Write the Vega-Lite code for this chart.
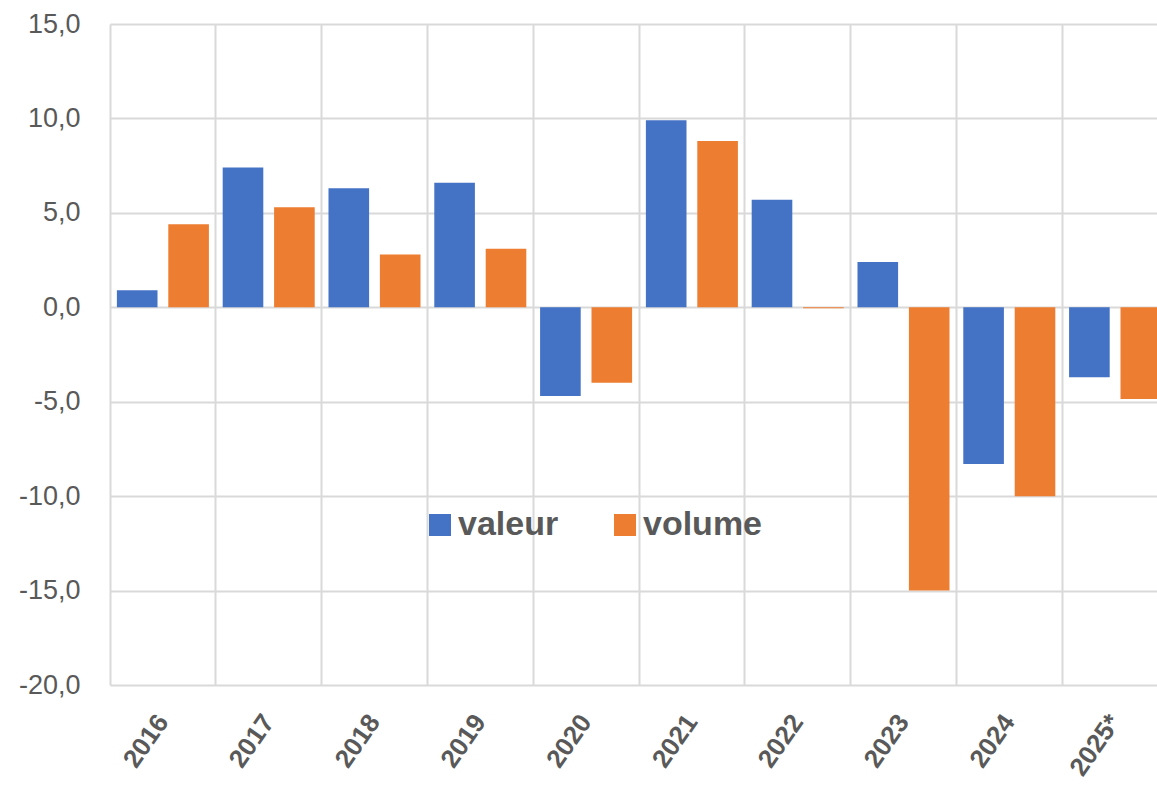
{
  "$schema": "https://vega.github.io/schema/vega-lite/v6.json",
  "width": 1058,
  "height": 661,
  "autosize": {"type": "none"},
  "padding": {"left": 110, "top": 24, "right": -11, "bottom": 100},
  "background": "white",
  "config": {"view": {"stroke": null}, "font": "Liberation Sans"},
  "data": {
    "values": [
      {"annee": "2016", "serie": "valeur", "value": 0.9},
      {"annee": "2016", "serie": "volume", "value": 4.4},
      {"annee": "2017", "serie": "valeur", "value": 7.4},
      {"annee": "2017", "serie": "volume", "value": 5.3},
      {"annee": "2018", "serie": "valeur", "value": 6.3},
      {"annee": "2018", "serie": "volume", "value": 2.8},
      {"annee": "2019", "serie": "valeur", "value": 6.6},
      {"annee": "2019", "serie": "volume", "value": 3.1},
      {"annee": "2020", "serie": "valeur", "value": -4.7},
      {"annee": "2020", "serie": "volume", "value": -4.0},
      {"annee": "2021", "serie": "valeur", "value": 9.9},
      {"annee": "2021", "serie": "volume", "value": 8.8},
      {"annee": "2022", "serie": "valeur", "value": 5.7},
      {"annee": "2022", "serie": "volume", "value": -0.05},
      {"annee": "2023", "serie": "valeur", "value": 2.4},
      {"annee": "2023", "serie": "volume", "value": -15.0},
      {"annee": "2024", "serie": "valeur", "value": -8.3},
      {"annee": "2024", "serie": "volume", "value": -10.0},
      {"annee": "2025*", "serie": "valeur", "value": -3.7},
      {"annee": "2025*", "serie": "volume", "value": -4.85}
    ]
  },
  "mark": {"type": "bar"},
  "encoding": {
    "x": {
      "field": "annee",
      "type": "nominal",
      "sort": null,
      "scale": {"paddingInner": 0, "paddingOuter": 0},
      "axis": {
        "title": null,
        "bandPosition": 0,
        "grid": true,
        "gridColor": "#d9d9d9",
        "gridWidth": 2,
        "ticks": false,
        "domain": false,
        "labelAngle": -55,
        "labelAlign": "right",
        "labelBaseline": "middle",
        "labelPadding": 32,
        "labelFont": "Liberation Sans",
        "labelFontWeight": "bold",
        "labelFontSize": 26,
        "labelColor": "#595959",
        "labelOverlap": false,
        "labelBound": false
      }
    },
    "xOffset": {
      "field": "serie",
      "type": "nominal",
      "sort": ["valeur", "volume"],
      "scale": {"paddingInner": 0.21, "paddingOuter": 0.134}
    },
    "y": {
      "field": "value",
      "type": "quantitative",
      "scale": {"domain": [-20, 15], "nice": false, "zero": false},
      "axis": {
        "title": null,
        "values": [-20, -15, -10, -5, 0, 5, 10, 15],
        "labelExpr": "replace(replace(format(datum.value, '.1f'), '.', ','), '\u2212', '-')",
        "grid": true,
        "gridColor": "#d9d9d9",
        "gridWidth": 2,
        "ticks": false,
        "domain": false,
        "labelPadding": 30,
        "labelFont": "Liberation Sans",
        "labelFontSize": 27,
        "labelColor": "#595959"
      }
    },
    "color": {
      "field": "serie",
      "type": "nominal",
      "scale": {"domain": ["valeur", "volume"], "range": ["#4472C4", "#ED7D31"]},
      "legend": {
        "title": null,
        "orient": "none",
        "legendX": 313,
        "legendY": 484,
        "direction": "horizontal",
        "padding": 0,
        "symbolType": "square",
        "symbolSize": 484,
        "symbolStrokeWidth": 0,
        "symbolOpacity": 1,
        "labelFont": "Liberation Sans",
        "labelFontSize": 34,
        "labelFontWeight": "bold",
        "labelColor": "#595959",
        "labelOffset": 1,
        "columnPadding": 49
      }
    }
  }
}
